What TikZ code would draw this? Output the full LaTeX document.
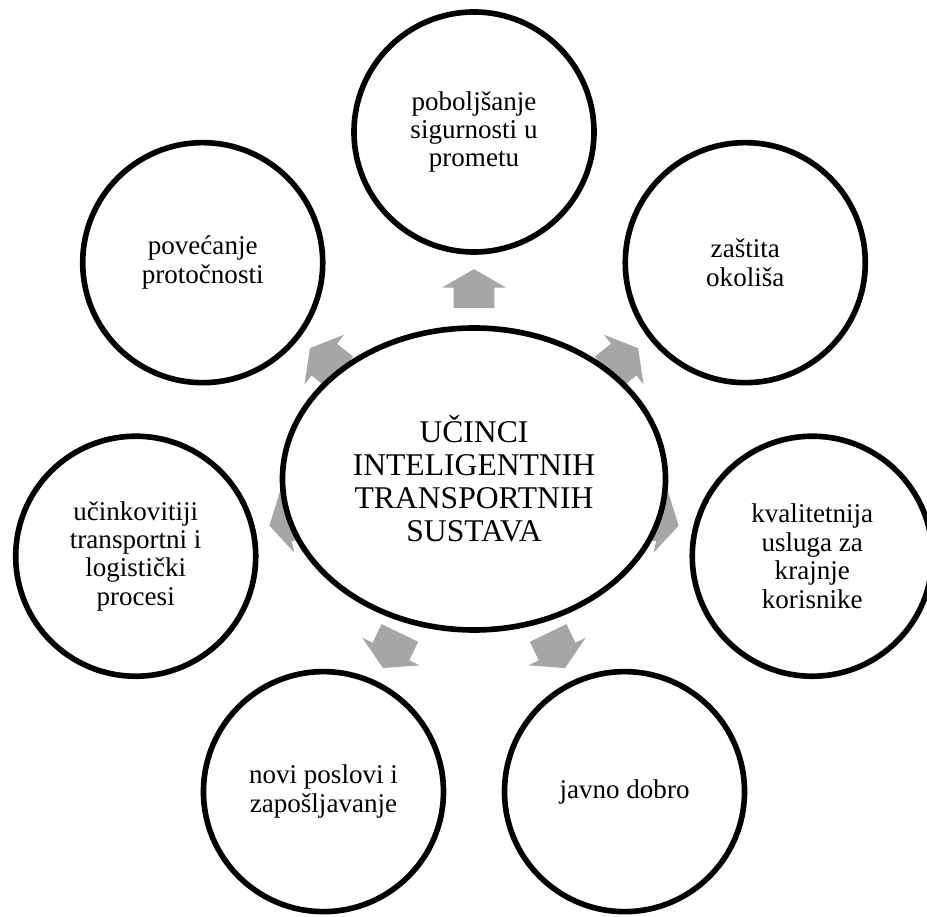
\documentclass[tikz,border=0pt]{standalone}
\usepackage{fontspec}
\setmainfont{Liberation Serif}
\usetikzlibrary{calc,shapes.geometric,shapes.arrows}
\tikzset{>=latex}
\tikzstyle{effect}=[circle,draw=black,fill=white,line width=3.2pt,minimum size=4.8cm,inner sep=0pt,align=center,font=\fontsize{15.4}{16.2}\selectfont]
\tikzstyle{core}=[ellipse,draw=black,fill=white,line width=3.2pt,minimum width=7.66cm,minimum height=6.04cm,inner sep=0pt,align=center,font=\fontsize{18}{18.8}\selectfont]
\tikzstyle{blockarrow}=[single arrow,draw=none,fill=black!35,minimum height=0.78cm,minimum width=1.26cm,inner xsep=0pt,inner ysep=0.4cm,single arrow head extend=0.23cm,single arrow tip angle=120]

\begin{document}
\begin{tikzpicture}
	\useasboundingbox (-9.48,-8.76) rectangle (9.06,9.58);
	\coordinate (centre) at (0, 0);
	
	\node[effect] (effect1) at (90:6.94) {poboljšanje\\sigurnosti u\\prometu};
	\node[effect] (effect2) at (38.57:6.94) {zaštita\\okoliša};
	\node[effect] (effect3) at (-12.86:6.94) {kvalitetnija\\usluga za\\krajnje\\korisnike};
	\node[effect] (effect4) at (-64.29:6.94) {javno dobro};
	\node[effect] (effect5) at (-115.71:6.94) {novi poslovi i\\zapošljavanje};
	\node[effect] (effect6) at (-167.14:6.94) {učinkovitiji\\transportni i\\logistički\\procesi};
	\node[effect] (effect7) at (141.43:6.94) {povećanje\\protočnosti};
	
	\node[blockarrow, rotate=90] (arrow1) at ($(centre)!3.69cm!(effect1)$) {};
	\node[blockarrow, rotate=38.57] (arrow2) at ($(centre)!3.69cm!(effect2)$) {};
	\node[blockarrow, rotate=-12.86] (arrow3) at ($(centre)!3.69cm!(effect3)$) {};
	\node[blockarrow, rotate=-64.29] (arrow4) at ($(centre)!3.69cm!(effect4)$) {};
	\node[blockarrow, rotate=-115.71] (arrow5) at ($(centre)!3.69cm!(effect5)$) {};
	\node[blockarrow, rotate=-167.14] (arrow6) at ($(centre)!3.69cm!(effect6)$) {};
	\node[blockarrow, rotate=141.43] (arrow7) at ($(centre)!3.69cm!(effect7)$) {};
	
	\node[core] (core) at (centre) {UČINCI\\INTELIGENTNIH\\TRANSPORTNIH\\SUSTAVA};
\end{tikzpicture}
\end{document}
